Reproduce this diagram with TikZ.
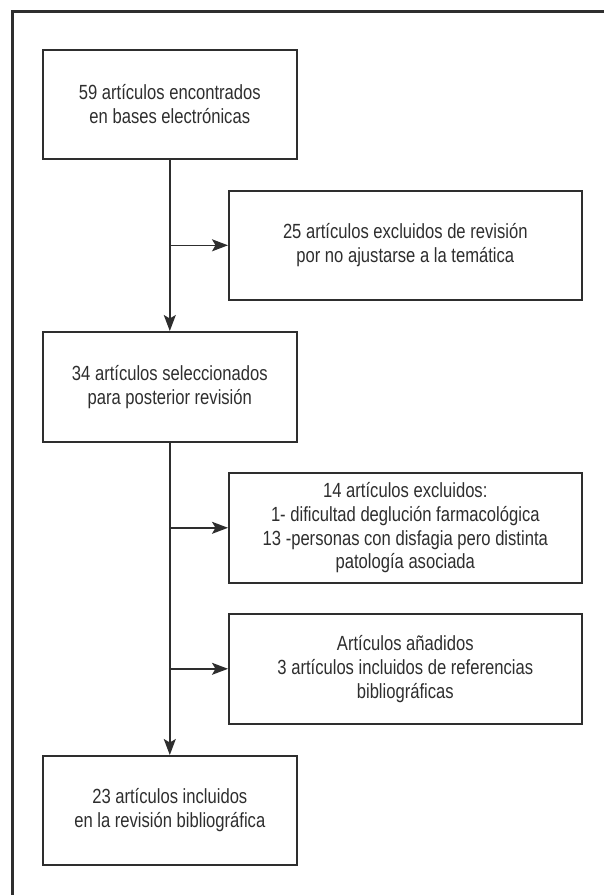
\documentclass[tikz,border=0pt]{standalone}
\usepackage{fontspec}
\setmainfont{Liberation Sans}[FakeStretch=0.81]
\usetikzlibrary{arrows.meta}
\definecolor{ink}{HTML}{2E2E2E}
\begin{document}
\begin{tikzpicture}[x=1pt,y=-1pt,
  box/.style={draw=ink, line width=1.6pt, text=ink, font=\fontsize{20.5}{23.8}\selectfont, align=center, inner sep=0pt, anchor=north west},
  narrowbox/.style={box, minimum width=254pt, minimum height=109pt},
  widebox/.style={box, minimum width=353pt, minimum height=109pt},
  conn/.style={draw=ink, line width=1.6pt, -{Stealth[length=16pt,width=12pt,inset=3.5pt]}},
  frameline/.style={draw=ink, line width=3pt}]
\useasboundingbox (0,0) rectangle (603,895);
\coordinate (fa) at (12,897);
\coordinate (fb) at (12,11);
\coordinate (fc) at (605,11);
\draw[frameline] (fa) -- (fb) -- (fc);

\node[narrowbox] (b1) at (42,49) {59 artículos encontrados\\en bases electrónicas};
\node[widebox] (b2) at (228,190) {25 artículos excluidos de revisión\\por no ajustarse a la temática};
\node[narrowbox, minimum height=110pt] (b3) at (42,331) {34 artículos seleccionados\\para posterior revisión};
\node[widebox, minimum height=110pt] (b4) at (228,472) {14 artículos excluidos:\\1- dificultad deglución farmacológica\\13 -personas con disfagia pero distinta\\patología asociada};
\node[widebox, minimum height=110pt] (b5) at (228,613) {Artículos añadidos\\3 artículos incluidos de referencias\\bibliográficas};
\node[narrowbox] (b6) at (42,755) {23 artículos incluidos\\en la revisión bibliográfica};

\draw[conn] (b1.south) -- (b3.north);
\draw[conn] (b3.south) -- (b6.north);
\coordinate (j1) at (b1.south |- b2.west);
\coordinate (j2) at (b1.south |- b4.west);
\coordinate (j3) at (b1.south |- b5.west);
\draw[conn] (j1) -- (b2.west);
\draw[conn] (j2) -- (b4.west);
\draw[conn] (j3) -- (b5.west);
\end{tikzpicture}
\end{document}
